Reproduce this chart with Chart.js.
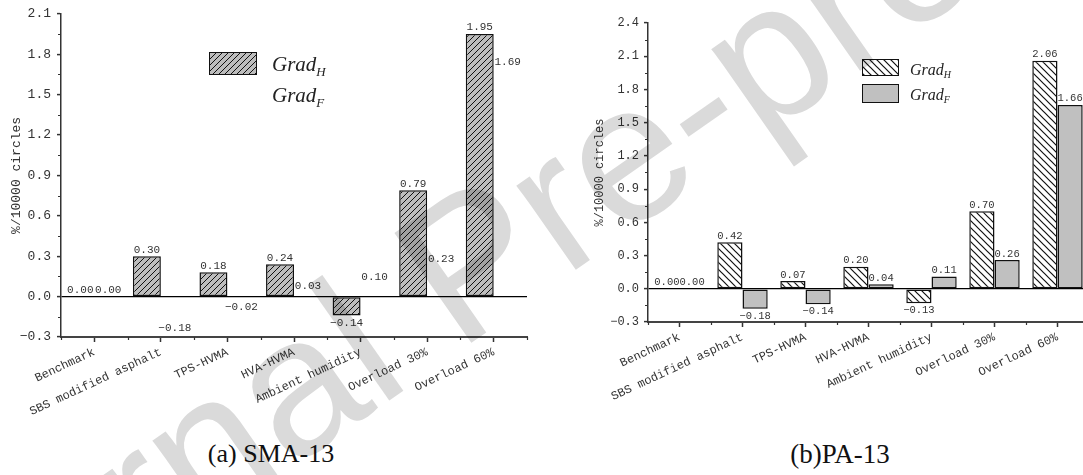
<!DOCTYPE html>
<html>
<head>
<meta charset="utf-8">
<script src="https://cdn.jsdelivr.net/npm/chart.js@4.4.1/dist/chart.umd.min.js"></script>
<style>
  html, body { margin: 0; padding: 0; background: #fff; overflow: hidden; }
  #wrap { position: relative; width: 1083px; height: 475px; overflow: hidden; }
  canvas { position: absolute; top: 0; }
  #sma { left: 0; }
  #pa { left: 540px; }
  .leg { position: absolute; font-family: "Liberation Serif", serif; font-style: italic; color: #222; line-height: 1; white-space: nowrap; }
  .leg sub { font-size: 0.62em; vertical-align: -0.35em; }
  .patch { position: absolute; box-sizing: border-box; border: 1.5px solid #111; }
  .cap { position: absolute; top: 441px; transform: translateX(-50%); font-family: "Liberation Serif", serif; font-size: 26px; line-height: 1; color: #111; white-space: nowrap; }
  #wm { position: absolute; left: 0; top: 0; pointer-events: none; mix-blend-mode: multiply; }
</style>
</head>
<body>
<div id="wrap">
  <canvas id="sma" width="545" height="430"></canvas>
  <canvas id="pa" width="560" height="430"></canvas>

  <!-- legends (HTML so the subscripts stay real text) -->
  <div class="patch" id="smaPatchH" style="left:209px;top:52px;width:48px;height:23px;"></div>
  <div class="leg" style="left:272px;top:54px;font-size:21px;">Grad<sub>H</sub></div>
  <div class="leg" style="left:272px;top:85px;font-size:21px;">Grad<sub>F</sub></div>

  <div class="patch" id="paPatchH" style="left:862px;top:59px;width:37px;height:17px;"></div>
  <div class="patch" id="paPatchF" style="left:862px;top:84px;width:37px;height:19px;background:#c0c0c0;"></div>
  <div class="leg" style="left:910px;top:62px;font-size:16px;">Grad<sub>H</sub></div>
  <div class="leg" style="left:910px;top:87px;font-size:16px;">Grad<sub>F</sub></div>

  <div class="cap" style="left:271px;">(a) SMA-13</div>
  <div class="cap" style="left:840px;font-size:27px;">(b)PA-13</div>

  <svg id="wm" width="1083" height="475">
    <text x="-110" y="750" transform="rotate(-35 -110 750)" font-family="Liberation Sans, Arial, sans-serif" font-size="195" fill="#dadada">Journal Pre-proof</text>
  </svg>
</div>

<script>
// Data
const categories = ['Benchmark', 'SBS modified asphalt', 'TPS-HVMA', 'HVA-HVMA', 'Ambient humidity', 'Overload 30%', 'Overload 60%'];

const smaGradH = [0.00, 0.30, 0.18, 0.24, -0.14, 0.79, 1.95];
const smaGradF = [0.00, -0.18, -0.02, 0.03, 0.10, 0.23, 1.69];

const paGradH = [0.00, 0.42, 0.07, 0.20, -0.13, 0.70, 2.06];
const paGradF = [0.00, -0.18, -0.14, 0.04, 0.11, 0.26, 1.66];

const smaYRange = [-0.3, 2.1];
const paYRange = [-0.3, 2.4];
const yStep = 0.3;

const yTitle = '%/10000 circles';
const monoFont = '"Liberation Mono", "DejaVu Sans Mono", monospace';


// number -> "0.30" / "−0.18"
function fmt(v, digits) {
  const s = Math.abs(v).toFixed(digits);
  return v < -1e-9 ? '\u2212' + s : s;
}

// hatch tile, '/' or '\'
function hatch(bg, dir, size, lw) {
  const c = document.createElement('canvas');
  c.width = c.height = size;
  const g = c.getContext('2d');
  g.fillStyle = bg;
  g.fillRect(0, 0, size, size);
  g.strokeStyle = '#111';
  g.lineWidth = lw;
  g.beginPath();
  if (dir === '/') {
    g.moveTo(0, size); g.lineTo(size, 0);
    g.moveTo(-size / 4, size / 4); g.lineTo(size / 4, -size / 4);
    g.moveTo(size * 3 / 4, size * 5 / 4); g.lineTo(size * 5 / 4, size * 3 / 4);
  } else {
    g.moveTo(0, 0); g.lineTo(size, size);
    g.moveTo(size * 3 / 4, -size / 4); g.lineTo(size * 5 / 4, size / 4);
    g.moveTo(-size / 4, size * 3 / 4); g.lineTo(size / 4, size * 5 / 4);
  }
  g.stroke();
  return c;
}

// value labels above / below every bar
const valueLabels = {
  id: 'valueLabels',
  afterDatasetsDraw(chart, args, opts) {
    const ctx = chart.ctx;
    ctx.save();
    ctx.font = opts.size + 'px ' + monoFont;
    ctx.fillStyle = '#333';
    ctx.textAlign = 'center';
    chart.data.datasets.forEach((ds, di) => {
      chart.getDatasetMeta(di).data.forEach((bar, i) => {
        const v = ds.data[i];
        if (v >= 0) {
          ctx.textBaseline = 'bottom';
          ctx.fillText(fmt(v, 2), bar.x, bar.y - 1);
        } else {
          ctx.textBaseline = 'top';
          ctx.fillText(fmt(v, 2), bar.x, bar.y + 2);
        }
      });
    });
    ctx.restore();
  }
};

// short minor ticks (y between majors, x on category edges)
const minorTicks = {
  id: 'minorTicks',
  afterDraw(chart) {
    const { ctx, scales: { x, y } } = chart;
    ctx.save();
    ctx.strokeStyle = '#333';
    ctx.lineWidth = 1.2;
    ctx.beginPath();
    for (let v = y.min + yStep / 2; v < y.max; v += yStep) {
      const py = Math.round(y.getPixelForValue(v)) + 0.5;
      ctx.moveTo(y.right - 3, py);
      ctx.lineTo(y.right, py);
    }
    const n = x.getLabels().length;
    for (let i = 0; i <= n; i++) {
      const px = Math.round(x.getPixelForValue(i - 0.5)) + 0.5;
      ctx.moveTo(px, x.top);
      ctx.lineTo(px, x.top + 3);
    }
    ctx.stroke();
    ctx.restore();
  }
};

function makeChart(id, cfg) {
  return new Chart(document.getElementById(id), {
    type: 'bar',
    data: {
      labels: categories,
      datasets: [
        { label: 'GradH', data: cfg.h, backgroundColor: cfg.hFill, borderColor: '#111', borderWidth: 1.5, borderSkipped: false },
        { label: 'GradF', data: cfg.f, backgroundColor: cfg.fFill, borderColor: '#111', borderWidth: cfg.fBorder, borderSkipped: false }
      ]
    },
    options: {
      responsive: false,
      animation: false,
      devicePixelRatio: 1,
      layout: { padding: cfg.padding },
      datasets: { bar: { categoryPercentage: cfg.catPct, barPercentage: 1 } },
      plugins: {
        legend: { display: false },
        tooltip: { enabled: false },
        valueLabels: { size: cfg.labelSize }
      },
      scales: {
        x: {
          afterFit(scale) { scale.height = cfg.xHeight; },
          grid: { display: true, drawOnChartArea: false, offset: false, tickLength: 5, tickColor: '#333', tickWidth: 1.5 },
          border: { color: '#444', width: 2 },
          ticks: {
            minRotation: 25, maxRotation: 25, autoSkip: false, padding: 3,
            color: '#333', font: { family: monoFont, size: 12 }
          }
        },
        y: {
          min: cfg.yRange[0],
          max: cfg.yRange[1],
          afterFit(scale) { scale.width = cfg.yWidth; },
          grid: {
            drawOnChartArea: true,
            color: ctx => Math.abs(ctx.tick.value) < 1e-9 ? '#000' : 'rgba(0,0,0,0)',
            lineWidth: 1.2,
            tickLength: 4, tickColor: '#333', tickWidth: 1.5
          },
          border: { color: '#333', width: 1.5 },
          ticks: {
            stepSize: yStep,
            padding: cfg.yPad,
            color: '#333',
            font: { family: monoFont, size: cfg.yTickSize },
            callback: v => fmt(v, 1)
          },
          title: {
            display: true, text: yTitle, color: '#333',
            font: { family: monoFont, size: cfg.yTitleSize },
            padding: { top: cfg.titlePad, bottom: 0 }
          }
        }
      }
    },
    plugins: [valueLabels, minorTicks]
  });
}

const smaHatch = hatch('#bdbdbd', '/', 6, 1);
const paHatch = hatch('#ffffff', '\\', 7, 1.2);
const tmp = document.createElement('canvas').getContext('2d');

// (a) SMA-13 : only Grad_H bars are drawn, Grad_F shows its numbers only
makeChart('sma', {
  h: smaGradH, f: smaGradF,
  hFill: tmp.createPattern(smaHatch, 'repeat'),
  fFill: 'rgba(0,0,0,0)', fBorder: 0,
  yRange: smaYRange,
  padding: { top: 11, right: 18, left: 0, bottom: 0 },
  xHeight: 93, yWidth: 61, yPad: 6, yTickSize: 13,
  yTitleSize: 13, titlePad: 9,
  catPct: 0.84, labelSize: 11
});

// (b) PA-13
makeChart('pa', {
  h: paGradH, f: paGradF,
  hFill: tmp.createPattern(paHatch, 'repeat'),
  fFill: '#c0c0c0', fBorder: 1.5,
  yRange: paYRange,
  padding: { top: 23, right: 11, left: 0, bottom: 0 },
  xHeight: 108, yWidth: 108, yPad: 5, yTickSize: 12,
  yTitleSize: 12, titlePad: 53,
  catPct: 0.8, labelSize: 10.5
});

// legend patches use the same hatch tiles
document.getElementById('smaPatchH').style.background = 'url(' + smaHatch.toDataURL() + ')';
document.getElementById('paPatchH').style.background = 'url(' + paHatch.toDataURL() + ')';
</script>
</body>
</html>
